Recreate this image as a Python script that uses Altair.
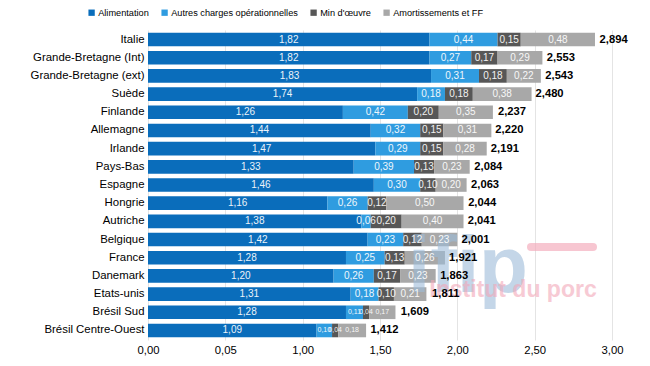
import altair as alt
import pandas as pd

countries = ["Italie", "Grande-Bretagne (Int)", "Grande-Bretagne (ext)", "Suède", "Finlande",
             "Allemagne", "Irlande", "Pays-Bas", "Espagne", "Hongrie", "Autriche", "Belgique",
             "France", "Danemark", "Etats-unis", "Brésil Sud", "Brésil Centre-Ouest"]
series = ["Alimentation", "Autres charges opérationnelles", "Min d'œuvre", "Amortissements et FF"]
alimentation = [1.82, 1.82, 1.83, 1.74, 1.26, 1.44, 1.47, 1.33, 1.46, 1.16, 1.38, 1.42, 1.28, 1.20, 1.31, 1.28, 1.09]
autres = [0.44, 0.27, 0.31, 0.18, 0.42, 0.32, 0.29, 0.39, 0.30, 0.26, 0.06, 0.23, 0.25, 0.26, 0.18, 0.11, 0.10]
main_oeuvre = [0.15, 0.17, 0.18, 0.18, 0.20, 0.15, 0.15, 0.13, 0.10, 0.12, 0.20, 0.12, 0.13, 0.17, 0.10, 0.04, 0.04]
amort = [0.48, 0.29, 0.22, 0.38, 0.35, 0.31, 0.28, 0.23, 0.20, 0.50, 0.40, 0.23, 0.26, 0.23, 0.21, 0.17, 0.18]
totals = [2.894, 2.553, 2.543, 2.480, 2.237, 2.220, 2.191, 2.084, 2.063, 2.044, 2.041, 2.001, 1.921, 1.863, 1.811, 1.609, 1.412]
x_ticks = [0, 0.5, 1.0, 1.5, 2.0, 2.5, 3.0]
colors = ["#0a6dbb", "#2f9ce0", "#575757", "#a8a8a8"]

rows = []
for i, c in enumerate(countries):
    for k, (s, vals) in enumerate(zip(series, [alimentation, autres, main_oeuvre, amort])):
        rows.append({"pays": c, "serie": s, "idx": k, "value": vals[i]})
df = pd.DataFrame(rows)
df_tot = pd.DataFrame({"pays": countries, "total": totals})

y_enc = alt.Y("pays:N", sort=countries,
              scale=alt.Scale(paddingInner=0.25, paddingOuter=0.15),
              axis=alt.Axis(title=None, domain=False, ticks=False, labelFontSize=11.4,
                            labelColor="#000000", labelPadding=4))

bars = alt.Chart(df).mark_bar().encode(
    x=alt.X("value:Q", stack="zero",
            scale=alt.Scale(domain=[0, 3], nice=False),
            axis=alt.Axis(title=None, values=x_ticks, domain=False, ticks=False,
                          grid=True, gridColor="#e4e4e4", labelFontSize=11.3,
                          labelColor="#000000", labelPadding=4, labelFlush=False,
                          labelExpr="datum.value == 0.5 ? '0,05' : replace(format(datum.value, '.2f'), '.', ',')")),
    y=y_enc,
    color=alt.Color("serie:N", sort=series,
                    scale=alt.Scale(domain=series, range=colors),
                    legend=alt.Legend(title=None, orient="none", legendX=-61, legendY=-22,
                                      direction="horizontal", symbolType="square",
                                      symbolSize=40, symbolStrokeWidth=0,
                                      labelFontSize=9.2, labelOffset=2, columnPadding=11,
                                      labelColor="#000000")),
    order=alt.Order("idx:Q", sort="ascending"),
)

seg_labels = alt.Chart(df).transform_stack(
    stack="value", groupby=["pays"], as_=["s0", "s1"],
    sort=[alt.SortField("idx", order="ascending")]
).transform_calculate(
    mid="(datum.s0 + datum.s1) / 2",
    lab="replace(format(datum.value, '.2f'), '.', ',')",
    small="(datum.pays == 'Brésil Sud' || datum.pays == 'Brésil Centre-Ouest') && datum.idx > 0 ? 1 : 0",
).mark_text(color="#ffffff", opacity=0.92).encode(
    x=alt.X("mid:Q"),
    y=alt.Y("pays:N", sort=countries),
    text="lab:N",
    size=alt.condition("datum.small == 1", alt.value(7), alt.value(10)),
)

tot_labels = alt.Chart(df_tot).transform_calculate(
    lab="replace(format(datum.total, '.3f'), '.', ',')"
).mark_text(align="left", dx=4, fontWeight="bold", fontSize=11.2, color="#000000").encode(
    x="total:Q",
    y=alt.Y("pays:N", sort=countries),
    text="lab:N",
)

wm = pd.DataFrame({"t1": ["ifip"], "t2": ["Institut du porc"]})
wm_ifip = alt.Chart(wm).mark_text(fontSize=80, fontWeight="bold", color="#9dbcd9",
                                  opacity=0.6, align="center").encode(
    x=alt.value(320), y=alt.value(238), text="t1:N")
wm_porc = alt.Chart(wm).mark_text(fontSize=23, fontWeight="bold", color="#f2a7b8",
                                  opacity=0.6, align="center", baseline="alphabetic").encode(
    x=alt.value(365), y=alt.value(267), text="t2:N")
wm_dash = alt.Chart(wm).mark_rule(color="#f2a7b8", strokeWidth=8, opacity=0.65, strokeCap="round").encode(
    x=alt.value(383), x2=alt.value(445), y=alt.value(217))

chart = alt.layer(bars, wm_ifip, wm_porc, wm_dash, seg_labels, tot_labels).properties(
    width=464, height=310,
    autosize=alt.AutoSizeParams(type="none"),
    padding={"left": 140, "top": 22, "right": 30, "bottom": 18},
).configure(font="Liberation Sans").configure_view(stroke=None)

chart.save("out.html", embed_options={"renderer": "svg", "actions": False})
